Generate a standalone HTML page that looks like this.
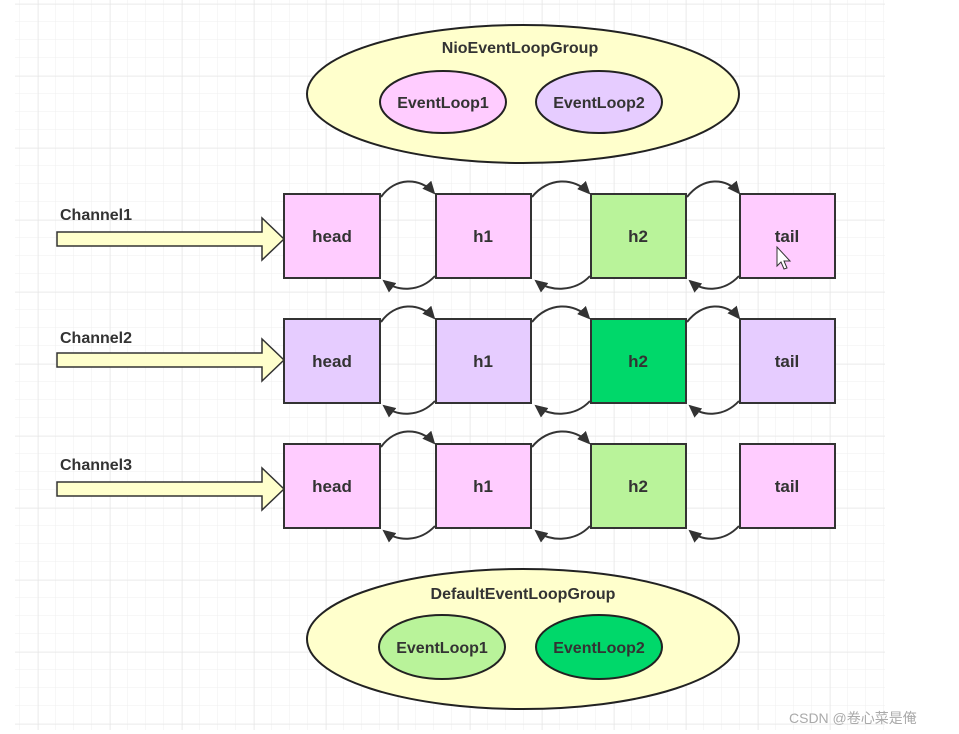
<!DOCTYPE html>
<html><head><meta charset="utf-8"><style>
html,body{margin:0;padding:0;background:#fff;}
svg{display:block}
text{font-family:"Liberation Sans",sans-serif;font-weight:bold;fill:#333;}
</style></head><body>
<svg width="959" height="734" viewBox="0 0 959 734" xmlns="http://www.w3.org/2000/svg">
<defs>
<pattern id="g" x="2" y="4" width="18" height="18" patternUnits="userSpaceOnUse">
<path d="M18 0V18M0 18H18" stroke="#efefef" stroke-width="1" fill="none"/>
</pattern>
<pattern id="G" x="38" y="4" width="72" height="72" patternUnits="userSpaceOnUse">
<path d="M0 0V72M0 0H72" stroke="#e4e4e4" stroke-width="1" fill="none"/>
</pattern>
<marker id="a" markerWidth="14" markerHeight="12" refX="11" refY="6" orient="auto" markerUnits="userSpaceOnUse">
<path d="M0 0L13 6L0 12Z" fill="#333"/>
</marker>
</defs>
<rect x="15" y="0" width="870" height="730" fill="url(#g)"/>
<rect x="15" y="0" width="870" height="730" fill="url(#G)"/>

<ellipse cx="523" cy="94" rx="216" ry="69" fill="#ffffcc" stroke="#222" stroke-width="2"/>
<text x="520" y="53" font-size="16" text-anchor="middle">NioEventLoopGroup</text>
<ellipse cx="443" cy="102" rx="63" ry="31" fill="#ffccff" stroke="#222" stroke-width="2"/>
<text x="443" y="108" font-size="16" text-anchor="middle">EventLoop1</text>
<ellipse cx="599" cy="102" rx="63" ry="31" fill="#e6ccff" stroke="#222" stroke-width="2"/>
<text x="599" y="108" font-size="16" text-anchor="middle">EventLoop2</text>

<ellipse cx="523" cy="639" rx="216" ry="70" fill="#ffffcc" stroke="#222" stroke-width="2"/>
<text x="523" y="599" font-size="16" text-anchor="middle">DefaultEventLoopGroup</text>
<ellipse cx="442" cy="647" rx="63" ry="32" fill="#b9f39a" stroke="#222" stroke-width="2"/>
<text x="442" y="653" font-size="16" text-anchor="middle">EventLoop1</text>
<ellipse cx="599" cy="647" rx="63" ry="32" fill="#00d86a" stroke="#222" stroke-width="2"/>
<text x="599" y="653" font-size="16" text-anchor="middle">EventLoop2</text>

<text x="60" y="220" font-size="16">Channel1</text>
<path d="M57 232H262V218L284 239L262 260V246H57Z" fill="#ffffcc" stroke="#333" stroke-width="1.5"/>
<rect x="284" y="194" width="96" height="84" fill="#ffccff" stroke="#333" stroke-width="2"/>
<rect x="436" y="194" width="95" height="84" fill="#ffccff" stroke="#333" stroke-width="2"/>
<rect x="591" y="194" width="95" height="84" fill="#b9f39a" stroke="#333" stroke-width="2"/>
<rect x="740" y="194" width="95" height="84" fill="#ffccff" stroke="#333" stroke-width="2"/>
<text x="332" y="242" font-size="17" text-anchor="middle">head</text>
<text x="483" y="242" font-size="17" text-anchor="middle">h1</text>
<text x="638" y="242" font-size="17" text-anchor="middle">h2</text>
<text x="787" y="242" font-size="17" text-anchor="middle">tail</text>

<text x="60" y="343" font-size="16">Channel2</text>
<path d="M57 353H262V339L284 360L262 381V367H57Z" fill="#ffffcc" stroke="#333" stroke-width="1.5"/>
<rect x="284" y="319" width="96" height="84" fill="#e6ccff" stroke="#333" stroke-width="2"/>
<rect x="436" y="319" width="95" height="84" fill="#e6ccff" stroke="#333" stroke-width="2"/>
<rect x="591" y="319" width="95" height="84" fill="#00d86a" stroke="#333" stroke-width="2"/>
<rect x="740" y="319" width="95" height="84" fill="#e6ccff" stroke="#333" stroke-width="2"/>
<text x="332" y="367" font-size="17" text-anchor="middle">head</text>
<text x="483" y="367" font-size="17" text-anchor="middle">h1</text>
<text x="638" y="367" font-size="17" text-anchor="middle">h2</text>
<text x="787" y="367" font-size="17" text-anchor="middle">tail</text>

<text x="60" y="470" font-size="16">Channel3</text>
<path d="M57 482H262V468L284 489L262 510V496H57Z" fill="#ffffcc" stroke="#333" stroke-width="1.5"/>
<rect x="284" y="444" width="96" height="84" fill="#ffccff" stroke="#333" stroke-width="2"/>
<rect x="436" y="444" width="95" height="84" fill="#ffccff" stroke="#333" stroke-width="2"/>
<rect x="591" y="444" width="95" height="84" fill="#b9f39a" stroke="#333" stroke-width="2"/>
<rect x="740" y="444" width="95" height="84" fill="#ffccff" stroke="#333" stroke-width="2"/>
<text x="332" y="492" font-size="17" text-anchor="middle">head</text>
<text x="483" y="492" font-size="17" text-anchor="middle">h1</text>
<text x="638" y="492" font-size="17" text-anchor="middle">h2</text>
<text x="787" y="492" font-size="17" text-anchor="middle">tail</text>

<g fill="none" stroke="#333" stroke-width="2" marker-end="url(#a)">
<path d="M381 197C395 177 420 177 434 193"/>
<path d="M435 276C420 292 398 292 384 281"/>
<path d="M532 197C548 177 574 177 589 193"/>
<path d="M590 276C575 292 550 292 536 281"/>
<path d="M687 197C703 177 726 177 739 193"/>
<path d="M739 276C724 292 703 292 690 281"/>
<path d="M381 322C395 302 420 302 434 318"/>
<path d="M435 401C420 417 398 417 384 406"/>
<path d="M532 322C548 302 574 302 589 318"/>
<path d="M590 401C575 417 550 417 536 406"/>
<path d="M687 322C703 302 726 302 739 318"/>
<path d="M739 401C724 417 703 417 690 406"/>
<path d="M381 447C395 427 420 427 434 443"/>
<path d="M435 526C420 542 398 542 384 531"/>
<path d="M532 447C548 427 574 427 589 443"/>
<path d="M590 526C575 542 550 542 536 531"/>
<path d="M739 526C724 542 703 542 690 531"/>
</g>

<path d="M777 247V266L781 262L784 269L787 268L784 261L790 261Z" fill="#fff" stroke="#333" stroke-width="1"/>

<text x="789" y="723" font-size="14" style="font-weight:normal;fill:#aaa;font-family:'Liberation Sans','Noto Sans CJK SC',sans-serif">CSDN @卷心菜是俺</text>
</svg>
</body></html>
